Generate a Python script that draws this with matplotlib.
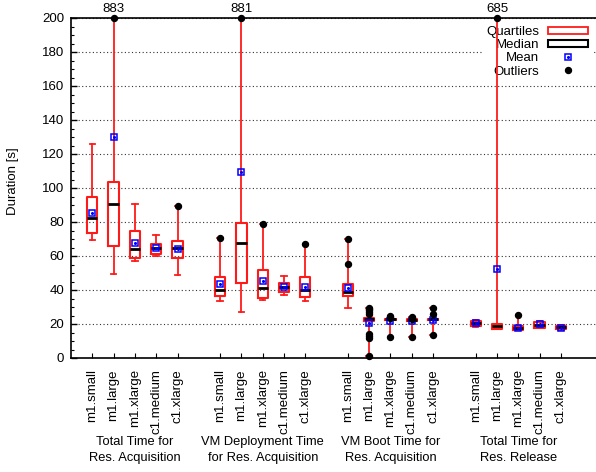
import numpy as np
import matplotlib
matplotlib.use("Agg")
import matplotlib.pyplot as plt
from matplotlib.patches import Rectangle
from matplotlib.lines import Line2D
import matplotlib.transforms as mtransforms

plt.rcParams['font.family'] = ['Liberation Sans', 'DejaVu Sans']
plt.rcParams['font.size'] = 9.5

# categories
instances = ['m1.small', 'm1.large', 'm1.xlarge', 'c1.medium', 'c1.xlarge']
phases = ['Total Time for\nRes. Acquisition',
          'VM Deployment Time\nfor Res. Acquisition',
          'VM Boot Time for\nRes. Acquisition',
          'Total Time for\nRes. Release']

# per phase, one value per instance type (seconds)
whislo = [[69.4, 49.6, 56.9, 59.8, 49.0],
          [33.7, 26.9, 34.1, 37.1, 33.3],
          [29.2, 1.4, 12.2, 12.5, 13.5],
          [18.5, 16.8, 16.3, 17.5, 16.7]]
q1 = [[73.3, 66.0, 58.6, 61.4, 58.6],
      [36.5, 44.3, 35.1, 38.6, 36.1],
      [36.3, 22.0, 22.2, 22.0, 22.1],
      [18.8, 17.1, 16.5, 17.8, 16.9]]
median = [[82.5, 90.4, 63.9, 64.7, 64.7],
          [40.0, 67.5, 41.4, 41.9, 40.0],
          [39.0, 23.0, 22.7, 22.5, 22.7],
          [20.4, 18.8, 17.4, 19.4, 18.0]]
q3 = [[94.9, 103.5, 74.9, 67.3, 68.6],
      [47.8, 79.2, 51.8, 44.3, 47.6],
      [43.3, 23.8, 23.2, 23.0, 23.2],
      [21.9, 20.2, 18.6, 21.0, 19.0]]
whishi = [[125.9, 883, 90.8, 72.2, 89.6],
          [70.4, 881, 78.6, 48.4, 66.9],
          [70.0, 29.6, 24.7, 24.3, 29.2],
          [22.5, 685, 25.3, 21.5, 19.5]]
mean = [[85.1, 130.0, 67.6, 64.9, 64.1],
        [43.3, 109.2, 45.3, 41.6, 41.8],
        [41.4, 20.6, 21.8, 21.6, 22.4],
        [20.6, 52.4, 17.8, 19.8, 17.8]]
outliers = [[[], [883], [], [], [89.6]],
            [[70.4], [881], [78.6], [], [66.9]],
            [[55.3, 70.0], [1.4, 11.6, 12.8, 13.9, 25.7, 26.8, 28.0, 29.0, 29.6],
             [12.2, 23.3, 24.0, 24.7], [12.5, 22.7, 23.5, 24.3], [13.5, 25.7, 29.2]],
            [[], [685], [25.3], [], []]]

ymax = 200

fig = plt.figure(figsize=(5.96, 4.72), dpi=100)
# axes runs a bit past the right edge of the picture, as in the original
ax = fig.add_axes([71/596, 114/472, 532.5/596, 340/472])

stats, pos = [], []
for g in range(len(phases)):
    for i in range(len(instances)):
        stats.append(dict(med=median[g][i], q1=q1[g][i], q3=q3[g][i],
                          whislo=whislo[g][i], whishi=whishi[g][i],
                          mean=mean[g][i], fliers=[]))
        pos.append(g*6 + i + 1)

red = '#ff1a1a'
ax.bxp(stats, positions=pos, widths=0.48, capwidths=0.26, showmeans=False,
       showfliers=False,
       boxprops=dict(color=red, lw=1.5),
       whiskerprops=dict(color=red, lw=1.3),
       capprops=dict(color=red, lw=1.3),
       medianprops=dict(color='black', lw=2, solid_capstyle='butt'),
       zorder=3)

# means: open blue square with a dot in the middle
allmeans = [m for row in mean for m in row]
ax.plot(pos, allmeans, ls='none', marker='s', ms=5, mfc='none', mec='#0000ff',
        mew=1.1, zorder=5)
ax.plot(pos, allmeans, ls='none', marker='o', ms=1.2, color='#0000ff', zorder=5)

# outliers, the ones above the top are pinned to it and labelled
k = 0
for g in range(len(phases)):
    for i in range(len(instances)):
        for v in outliers[g][i]:
            ax.plot(pos[k], min(v, ymax), 'o', color='black', ms=4.3,
                    clip_on=False, zorder=6)
            if v > ymax:
                ax.annotate(str(v), (pos[k], ymax), xytext=(0, 2.5),
                            textcoords='offset points', ha='center',
                            va='bottom', fontsize=9.5)
        k += 1

ax.set_xlim(0, 25)
ax.set_ylim(0, ymax)
ax.set_yticks(np.arange(0, 201, 20))
ax.set_yticks(np.arange(0, 201, 5), minor=True)
ax.set_xticks(pos)
ax.set_xticklabels(instances * len(phases), rotation=90, ha='center', va='top')
ax.tick_params(axis='y', which='major', direction='in', length=4.3, width=1,
               labelsize=9.5, pad=5)
ax.tick_params(axis='y', which='minor', direction='in', length=2.2, width=0.8)
ax.tick_params(axis='x', direction='in', length=3.5, width=0.8,
               labelsize=9.5, pad=8)
for s in ['left', 'bottom', 'top']:
    ax.spines[s].set_linewidth(1.2)
ax.spines['right'].set_visible(False)

ax.grid(axis='y', which='major', color='#333333', ls=(0, (1, 2.2)), lw=0.8)
ax.set_axisbelow(True)

ax.set_ylabel('Duration [s]', fontsize=9.5)
ax.yaxis.set_label_coords(-0.098, 0.52)

trans = mtransforms.blended_transform_factory(ax.transData, ax.transAxes)
for g, name in enumerate(phases):
    ax.text(g*6 + 3, -0.228, name, transform=trans, ha='center', va='top',
            fontsize=9.3, linespacing=1.45)

handles = [Rectangle((0, 0), 1, 1, fc='white', ec=red, lw=1.3),
           Rectangle((0, 0), 1, 1, fc='white', ec='black', lw=1.5),
           (Line2D([], [], ls='none', marker='s', ms=5, mfc='none',
                   mec='#0000ff', mew=1.1),
            Line2D([], [], ls='none', marker='o', ms=1.2, color='#0000ff')),
           Line2D([], [], ls='none', marker='o', ms=4.3, color='black')]
leg = ax.legend(handles, ['Quartiles', 'Median', 'Mean', 'Outliers'],
                loc='upper right', bbox_to_anchor=(592/596, 1 - 22/472),
                bbox_transform=fig.transFigure, markerfirst=False,
                fontsize=9.5, handlelength=3.0, handleheight=0.5,
                handletextpad=0.7, labelspacing=0.09, borderpad=0.3,
                borderaxespad=0, frameon=True, fancybox=False,
                edgecolor='none', facecolor='white', framealpha=1)
leg.set_zorder(2)

fig.savefig('out.png', dpi=100)
